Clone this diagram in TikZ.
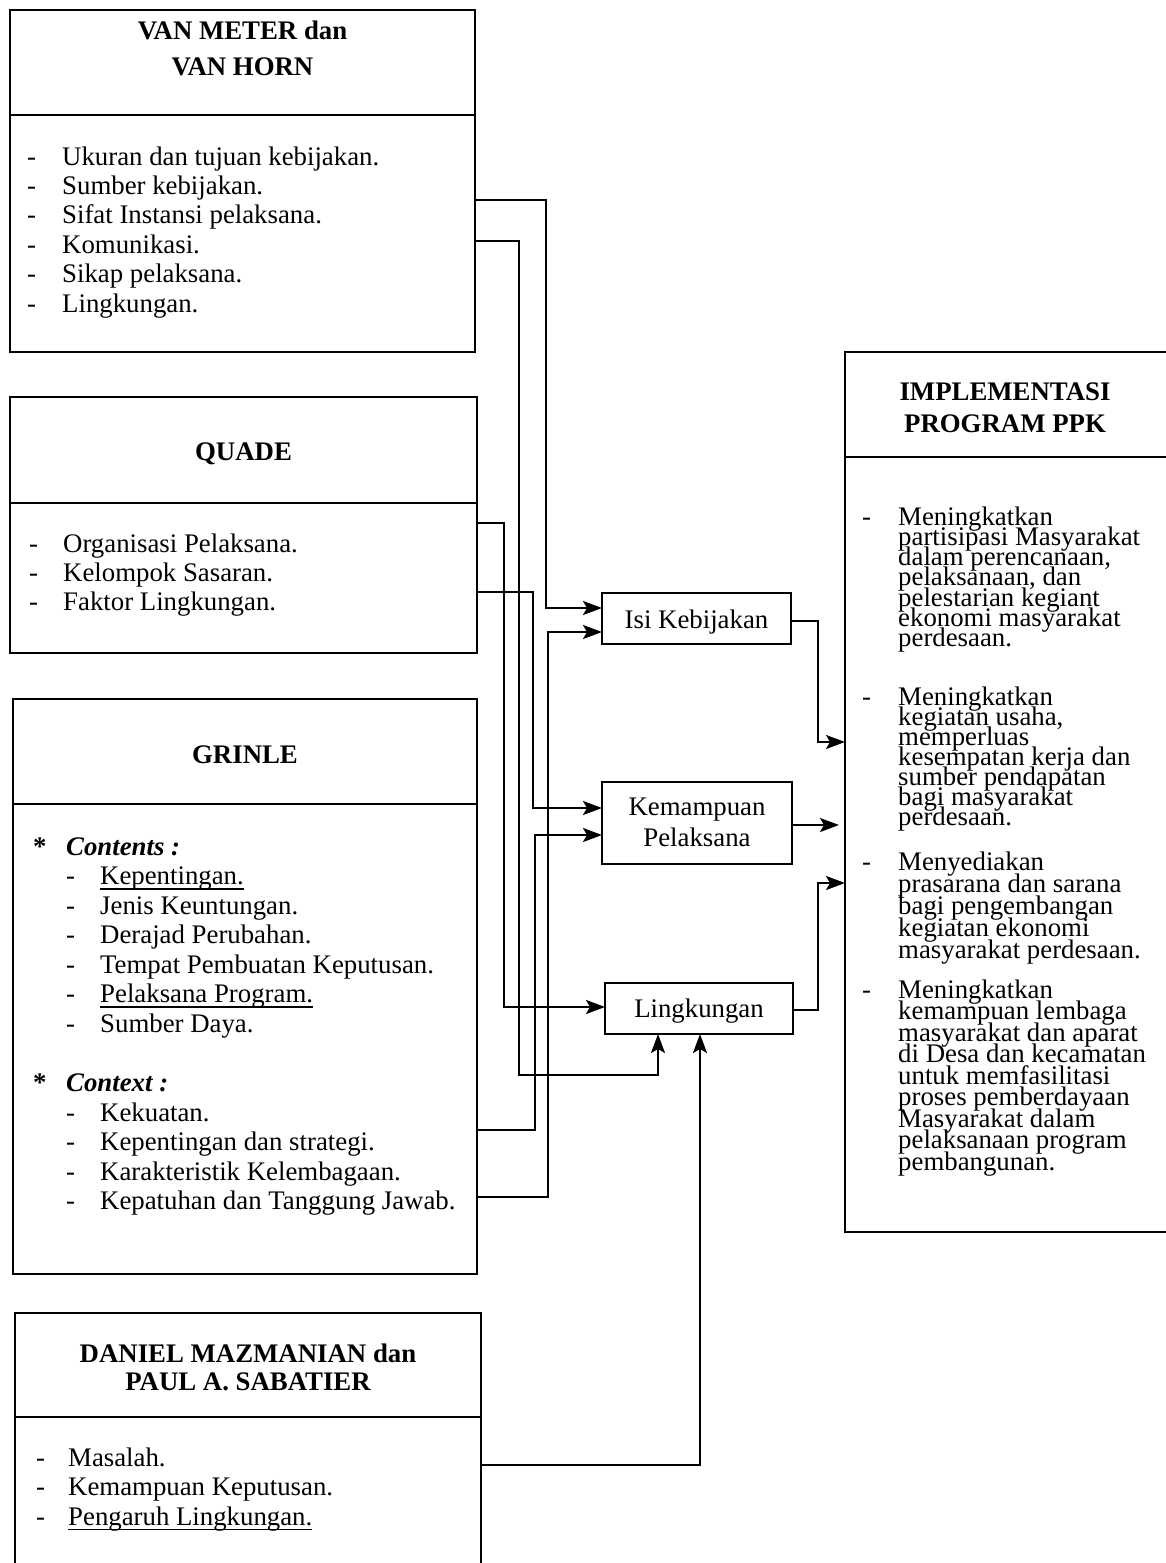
\documentclass[tikz,border=0pt]{standalone}
\usepackage{fontspec}
\setmainfont{Liberation Serif}
\usetikzlibrary{arrows.meta}
\newcommand\fsz{\fontsize{26.8}{30}\selectfont}
\newcommand\myul[1]{\setbox0\hbox{#1}\rlap{\rule[-5pt]{\wd0}{1.4pt}}#1}
\begin{document}
\begin{tikzpicture}[x=1pt,y=-1pt,
  bx/.style={draw, line width=2.3pt, inner sep=0pt, outer sep=0pt, anchor=north west},
  sep/.style={line width=2.3pt},
  it/.style={anchor=base west, inner sep=0pt, font=\fsz},
  ti/.style={anchor=base, inner sep=0pt, font=\fsz\bfseries},
  ln/.style={line width=2pt},
  ar/.style={ln, -{Stealth[length=19pt,width=14pt,inset=4pt]}}]
\fill[white] (0,0) rectangle (1165,1563);
\useasboundingbox (0,0) rectangle (1165,1563);

% ---------------- boxes ----------------
\node[bx, minimum width=465pt, minimum height=342pt] (vm) at (10,10) {};
\node[bx, minimum width=467pt, minimum height=256pt] (qd) at (10,397) {};
\node[bx, minimum width=464pt, minimum height=575pt] (gr) at (13,699) {};
\node[bx, minimum width=466pt, minimum height=280pt] (dm) at (15,1313) {};
\node[bx, minimum width=340pt, minimum height=880pt] (impl) at (845,352) {};
\node[bx, minimum width=189pt, minimum height=51pt] (isi) at (602,593) {};
\node[bx, minimum width=190pt, minimum height=82pt] (kem) at (602,782) {};
\node[bx, minimum width=188pt, minimum height=51pt] (ling) at (605,983) {};

% separators
\draw[sep] (10,115) -- (475,115);
\draw[sep] (10,503) -- (477,503);
\draw[sep] (13,804) -- (477,804);
\draw[sep] (15,1417) -- (481,1417);
\draw[sep] (845,457) -- (1185,457);

% ---------------- titles ----------------
\node[ti] (t1a) at (242.5,40) {VAN METER dan};
\node[ti] (t1b) at (242.5,75) {VAN HORN};
\node[ti] (t2) at (243.5,460) {QUADE};
\node[ti] (t3) at (245,763) {GRINLE};
\node[ti] (t4a) at (248,1362) {DANIEL MAZMANIAN dan};
\node[ti] (t4b) at (248,1390) {PAUL A. SABATIER};
\node[ti] (t5a) at (1005,400) {IMPLEMENTASI};
\node[ti] (t5b) at (1005,432) {PROGRAM PPK};

\node[anchor=base, inner sep=0pt, font=\fsz] (isit) at (696.5,628) {Isi Kebijakan};
\node[anchor=base, inner sep=0pt, font=\fsz] (kemt1) at (697,815) {Kemampuan};
\node[anchor=base, inner sep=0pt, font=\fsz] (kemt2) at (697,846) {Pelaksana};
\node[anchor=base, inner sep=0pt, font=\fsz] (lingt) at (699,1017) {Lingkungan};

% ---------------- lists ----------------
\foreach \t [count=\i from 0] in {Ukuran dan tujuan kebijakan., Sumber kebijakan., Sifat Instansi pelaksana., Komunikasi., Sikap pelaksana., Lingkungan.}{
  \node[it] (vmd\i) at (27,165+29.4*\i) {-};
  \node[it] (vmt\i) at (62,165+29.4*\i) {\t};
}
\foreach \t [count=\i from 0] in {Organisasi Pelaksana., Kelompok Sasaran., Faktor Lingkungan.}{
  \node[it] (qdd\i) at (29,552+29*\i) {-};
  \node[it] (qdt\i) at (63,552+29*\i) {\t};
}
\node[it] (gs1) at (33,855) {\bfseries *};
\node[it] (gc1) at (66,855) {\bfseries\itshape Contents :};
\foreach \t [count=\i from 0] in {\myul{Kepentingan.}, Jenis Keuntungan., Derajad Perubahan., Tempat Pembuatan Keputusan., \myul{Pelaksana Program.}, Sumber Daya.}{
  \node[it] (grd\i) at (66,884.5+29.5*\i) {-};
  \node[it] (grt\i) at (100,884.5+29.5*\i) {\t};
}
\node[it] (gs2) at (33,1091) {\bfseries *};
\node[it] (gc2) at (66,1091) {\bfseries\itshape Context :};
\foreach \t [count=\i from 0] in {Kekuatan., Kepentingan dan strategi., Karakteristik Kelembagaan., Kepatuhan dan Tanggung Jawab.}{
  \node[it] (gxd\i) at (66,1121+29.5*\i) {-};
  \node[it] (gxt\i) at (100,1121+29.5*\i) {\t};
}
\foreach \t [count=\i from 0] in {Masalah., Kemampuan Keputusan., \myul{Pengaruh Lingkungan.}}{
  \node[it] (dmd\i) at (36,1466+29.5*\i) {-};
  \node[it] (dmt\i) at (68,1466+29.5*\i) {\t};
}
% implementasi items
\node[it] (ia) at (862,525) {-};
\foreach \t [count=\i from 0] in {Meningkatkan, partisipasi Masyarakat, {dalam perencanaan,}, {pelaksanaan, dan}, pelestarian kegiant, ekonomi masyarakat, perdesaan.}{
  \node[it] (iat\i) at (898,525+20.3*\i) {\t};
}
\node[it] (ib) at (862,705) {-};
\foreach \t [count=\i from 0] in {Meningkatkan, {kegiatan usaha,}, memperluas, kesempatan kerja dan, sumber pendapatan, bagi masyarakat, perdesaan.}{
  \node[it] (ibt\i) at (898,705+20*\i) {\t};
}
\node[it] (ic) at (862,870) {-};
\foreach \t [count=\i from 0] in {Menyediakan, prasarana dan sarana, bagi pengembangan, kegiatan ekonomi, masyarakat perdesaan.}{
  \node[it] (ict\i) at (898,870+22*\i) {\t};
}
\node[it] (id) at (862,998) {-};
\foreach \t [count=\i from 0] in {Meningkatkan, kemampuan lembaga, masyarakat dan aparat, di Desa dan kecamatan, untuk memfasilitasi, proses pemberdayaan, Masyarakat dalam, pelaksanaan program, pembangunan.}{
  \node[it] (idt\i) at (898,998+21.5*\i) {\t};
}

% ---------------- connectors ----------------
\draw[ar] (vm.east |- 0,200) -- (546,200) -- (546,608) -- (isi.west |- 0,608);
\draw[ar] (vm.east |- 0,241) -- (519,241) -- (519,1075) -- (658,1075) -- (ling.south -| 658,0);
\draw[ar] (qd.east |- 0,523) -- (504,523) -- (504,1007) -- (ling.west |- 0,1007);
\draw[ar] (qd.east |- 0,592) -- (533,592) -- (533,808) -- (kem.west |- 0,808);
\draw[ar] (gr.east |- 0,1130) -- (535,1130) -- (535,835) -- (kem.west |- 0,835);
\draw[ar] (gr.east |- 0,1197) -- (548,1197) -- (548,632) -- (isi.west |- 0,632);
\draw[ar] (dm.east |- 0,1465) -- (700,1465) -- (ling.south -| 700,0);
\draw[ar] (isi.east |- 0,621) -- (818,621) -- (818,742) -- (impl.west |- 0,742);
\draw[ar, shorten >=6pt] (kem.east |- 0,825) -- (impl.west |- 0,825);
\draw[ar] (ling.east |- 0,1010) -- (818,1010) -- (818,883) -- (impl.west |- 0,883);
\end{tikzpicture}
\end{document}
